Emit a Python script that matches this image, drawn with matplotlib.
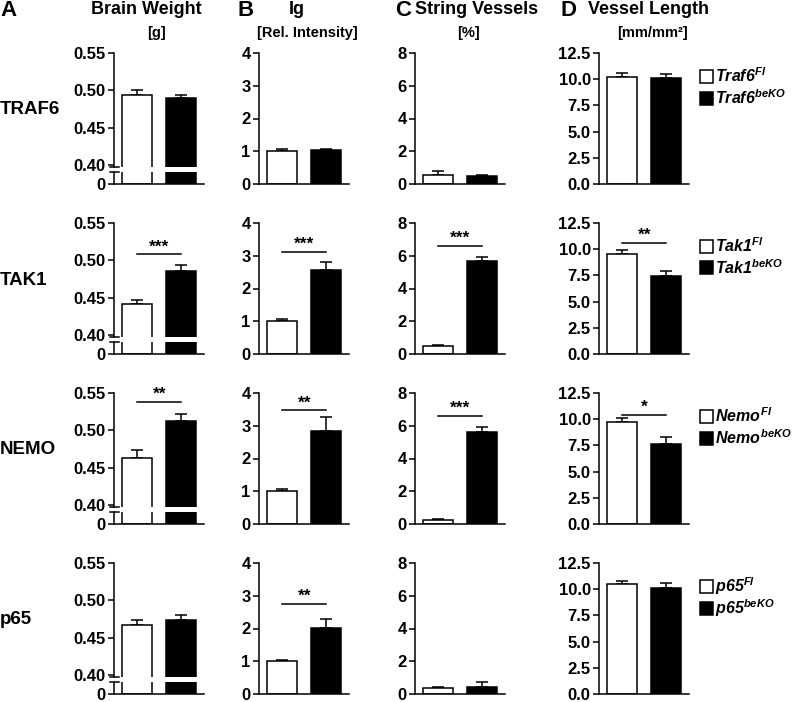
import matplotlib
matplotlib.use("Agg")
import matplotlib.pyplot as plt
from matplotlib.patches import Rectangle

plt.rcParams["font.family"] = "Liberation Sans"
plt.rcParams["font.weight"] = "bold"
plt.rcParams["mathtext.fontset"] = "custom"
for k in ("rm", "it", "bf"):
    plt.rcParams["mathtext." + k] = "Liberation Sans:bold:italic"
plt.rcParams["axes.linewidth"] = 1.1

# Daten (Mittelwert, SEM) – Zeilen: TRAF6, TAK1, NEMO, p65
row_labels = ["TRAF6", "TAK1", "NEMO", "p65"]
genes = ["Traf6", "Tak1", "Nemo", "p65"]

bw_fl = [0.494, 0.441, 0.463, 0.467]
bw_fl_err = [0.007, 0.005, 0.010, 0.007]
bw_ko = [0.490, 0.486, 0.513, 0.473]
bw_ko_err = [0.004, 0.007, 0.009, 0.007]

ig_fl = [1.0, 1.0, 1.0, 1.0]
ig_fl_err = [0.08, 0.08, 0.08, 0.03]
ig_ko = [1.04, 2.56, 2.84, 2.02]
ig_ko_err = [0.03, 0.24, 0.42, 0.28]

sv_fl = [0.58, 0.48, 0.25, 0.35]
sv_fl_err = [0.20, 0.10, 0.05, 0.05]
sv_ko = [0.50, 5.65, 5.60, 0.45]
sv_ko_err = [0.06, 0.25, 0.35, 0.30]

vl_fl = [10.2, 9.55, 9.7, 10.5]
vl_fl_err = [0.4, 0.4, 0.4, 0.25]
vl_ko = [10.1, 7.4, 7.65, 10.1]
vl_ko_err = [0.4, 0.5, 0.65, 0.45]

# Signifikanz: (Sterne, Höhe der Linie)
bw_sig = [None, ("***", 0.508), ("**", 0.538), None]
ig_sig = [None, ("***", 3.12), ("**", 3.47), ("**", 2.75)]
sv_sig = [None, ("***", 6.6), ("***", 6.6), None]
vl_sig = [None, ("**", 10.6), ("*", 10.4), None]

titles = ["Brain Weight", "Ig", "String Vessels", "Vessel Length"]
units = ["[g]", "[Rel. Intensity]", "[%]", "[mm/mm²]"]
letters = ["A", "B", "C", "D"]

W, H = 794, 702
fig = plt.figure(figsize=(W / 100, H / 100), dpi=100)

row_top = [53, 223, 393, 563]
row_h = 131
col_x = [114, 259, 415, 599]
col_w = 90


def px_axes(x, y_top, w, h):
    return fig.add_axes([x / W, 1 - (y_top + h) / H, w / W, h / H])


def style(ax):
    ax.spines[["top", "right"]].set_visible(False)
    ax.tick_params(axis="y", direction="out", length=4, width=1.1, labelsize=12, pad=2)
    ax.tick_params(axis="x", length=0, labelbottom=False)
    ax.set_xlim(-0.52, 1.51)
    ax.patch.set_alpha(0)


def draw_bars(ax, fl, fl_err, ko, ko_err):
    ax.bar([0, 1], [fl, ko], width=0.68, color=["white", "black"],
           edgecolor="black", linewidth=1.1, zorder=2)
    ax.errorbar([0, 1], [fl, ko], yerr=[[0, 0], [fl_err, ko_err]], fmt="none",
                ecolor="black", elinewidth=1.1, capsize=4.5, capthick=1.1, zorder=1)


def draw_sig(ax, sig):
    if sig is None:
        return
    txt, y = sig
    ax.plot([0, 1], [y, y], color="black", lw=1.1)
    ax.text(0.5, y, txt, ha="center", va="bottom", fontsize=12.5)


for r in range(4):
    top = row_top[r]

    # A: Hirngewicht mit unterbrochener Achse
    up_h = 114
    gap = 5
    ax_up = px_axes(col_x[0], top, col_w, up_h)
    ax_lo = px_axes(col_x[0], top + up_h + gap, col_w, row_h - up_h - gap)
    for ax in (ax_up, ax_lo):
        style(ax)
        draw_bars(ax, bw_fl[r], bw_fl_err[r], bw_ko[r], bw_ko_err[r])
    ax_up.set_ylim(0.397, 0.55)
    ax_up.set_yticks([0.40, 0.45, 0.50, 0.55])
    ax_up.set_yticklabels(["0.40", "0.45", "0.50", "0.55"])
    ax_up.spines["bottom"].set_visible(False)
    ax_lo.set_ylim(0, 0.02)
    ax_lo.set_yticks([0])
    ax_lo.set_yticklabels(["0"])
    ax_up.plot([-0.05, 0.05], [0, 0], transform=ax_up.transAxes, color="black", lw=1.1, clip_on=False)
    ax_lo.plot([-0.05, 0.05], [1, 1], transform=ax_lo.transAxes, color="black", lw=1.1, clip_on=False)
    draw_sig(ax_up, bw_sig[r])

    # B: Ig
    ax = px_axes(col_x[1], top, col_w, row_h)
    style(ax)
    draw_bars(ax, ig_fl[r], ig_fl_err[r], ig_ko[r], ig_ko_err[r])
    ax.set_ylim(0, 4)
    ax.set_yticks([0, 1, 2, 3, 4])
    draw_sig(ax, ig_sig[r])

    # C: String Vessels
    ax = px_axes(col_x[2], top, col_w, row_h)
    style(ax)
    draw_bars(ax, sv_fl[r], sv_fl_err[r], sv_ko[r], sv_ko_err[r])
    ax.set_ylim(0, 8)
    ax.set_yticks([0, 2, 4, 6, 8])
    draw_sig(ax, sv_sig[r])

    # D: Vessel Length
    ax = px_axes(col_x[3], top, col_w, row_h)
    style(ax)
    draw_bars(ax, vl_fl[r], vl_fl_err[r], vl_ko[r], vl_ko_err[r])
    ax.set_ylim(0, 12.5)
    ax.set_yticks([0, 2.5, 5, 7.5, 10, 12.5])
    ax.set_yticklabels(["0.0", "2.5", "5.0", "7.5", "10.0", "12.5"])
    draw_sig(ax, vl_sig[r])

    # Zeilenbeschriftung
    fig.text(0, 1 - (top + 57) / H, row_labels[r], ha="left", va="center", fontsize=13.5)

    # Legende
    for j, (sup, fc) in enumerate([("Fl", "white"), ("beKO", "black")]):
        yc = top + 23 + 22 * j
        fig.add_artist(Rectangle((700 / W, 1 - (yc + 6.5) / H), 13 / W, 13 / H,
                                 facecolor=fc, edgecolor="black", lw=1.1,
                                 transform=fig.transFigure))
        fig.text(715 / W, 1 - yc / H, r"$%s^{%s}$" % (genes[r], sup),
                 ha="left", va="center", fontsize=11.5)

# Spaltenköpfe
letter_x = [0, 237, 395, 560]
title_cx = [146, 297, 477, 648]
unit_cx = [157, 307, 468, 652]
for i in range(4):
    fig.text(letter_x[i] / W, 1 - 11 / H, letters[i], ha="left", va="center", fontsize=16)
    fig.text(title_cx[i] / W, 1 - 10 / H, titles[i], ha="center", va="center", fontsize=13)
    fig.text(unit_cx[i] / W, 1 - 33 / H, units[i], ha="center", va="center", fontsize=10.5)

fig.savefig("out.png", dpi=100)
